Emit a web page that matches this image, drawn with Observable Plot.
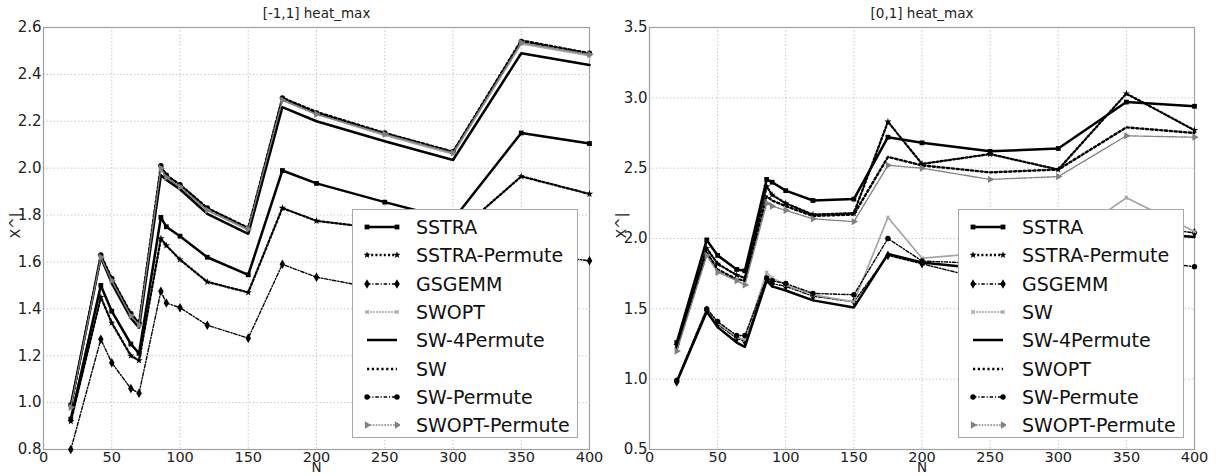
<!DOCTYPE html>
<html><head><meta charset="utf-8">
<script src="https://cdn.jsdelivr.net/npm/d3@7"></script>
<script src="https://cdn.jsdelivr.net/npm/@observablehq/plot@0.6"></script>
<style>
body{margin:0;background:#fff;font-family:"DejaVu Sans",sans-serif;}
#wrap{position:relative;width:1219px;height:476px;overflow:hidden;}
.panel{position:absolute;top:0;}
.legend{position:absolute;top:209px;width:226px;height:229px;box-sizing:border-box;background:#fff;border:1px solid #a8a8a8;padding-top:3px;}
.row{height:28.3px;display:flex;align-items:center;}
.row svg{margin-left:11px;width:36px;height:16px;flex:none;}
.row span{margin-left:16px;font-size:19px;color:#111;white-space:nowrap;}
</style></head>
<body><div id="wrap"></div>
<script>
// ---- data ----
const N = [20, 42, 50, 64, 70, 86, 90, 100, 120, 150, 175, 200, 250, 300, 350, 400];
const xTicks = [0, 50, 100, 150, 200, 250, 300, 350, 400];
const leftYTicks = [0.8, 1.0, 1.2, 1.4, 1.6, 1.8, 2.0, 2.2, 2.4, 2.6];
const rightYTicks = [0.5, 1.0, 1.5, 2.0, 2.5, 3.0, 3.5];

const leftLabels = ["SSTRA","SSTRA-Permute","GSGEMM","SWOPT","SW-4Permute","SW","SW-Permute","SWOPT-Permute"];
const rightLabels = ["SSTRA","SSTRA-Permute","GSGEMM","SW","SW-4Permute","SWOPT","SW-Permute","SWOPT-Permute"];

const leftSSTRA        = [0.93,1.50,1.39,1.25,1.21,1.79,1.75,1.71,1.62,1.545,1.99,1.935,1.855,1.78,2.15,2.105];
const leftSSTRAPermute = [0.92,1.45,1.34,1.20,1.18,1.70,1.67,1.61,1.515,1.47,1.83,1.775,1.74,1.71,1.965,1.89];
const leftGSGEMM       = [0.80,1.27,1.17,1.06,1.04,1.475,1.425,1.405,1.33,1.275,1.59,1.535,1.48,1.45,1.64,1.605];
const leftSWOPT        = [0.98,1.62,1.52,1.37,1.33,2.00,1.96,1.92,1.82,1.735,2.29,2.23,2.14,2.06,2.53,2.48];
const leftSW4Permute   = [0.99,1.62,1.51,1.36,1.32,1.97,1.95,1.91,1.805,1.72,2.26,2.20,2.115,2.035,2.49,2.44];
const leftSW           = [0.98,1.63,1.53,1.38,1.34,2.01,1.97,1.93,1.83,1.745,2.30,2.24,2.15,2.07,2.545,2.49];
const leftSWPermute    = [0.99,1.63,1.53,1.38,1.34,2.01,1.97,1.93,1.83,1.745,2.30,2.235,2.15,2.07,2.54,2.49];
const leftSWOPTPermute = [0.98,1.62,1.52,1.37,1.33,2.00,1.96,1.92,1.82,1.74,2.29,2.23,2.145,2.065,2.535,2.485];

const rightSSTRA        = [1.26,1.99,1.88,1.78,1.77,2.42,2.40,2.34,2.27,2.28,2.72,2.68,2.62,2.64,2.97,2.94];
const rightSSTRAPermute = [1.24,1.93,1.82,1.74,1.72,2.37,2.31,2.25,2.17,2.18,2.83,2.53,2.60,2.49,3.03,2.77];
const rightGSGEMM       = [0.98,1.49,1.39,1.29,1.27,1.71,1.68,1.66,1.59,1.55,1.88,1.82,1.70,1.72,2.10,2.04];
const rightSW           = [0.99,1.50,1.40,1.30,1.28,1.76,1.72,1.67,1.60,1.55,2.15,1.86,1.90,1.95,2.29,2.05];
const rightSW4Permute   = [0.98,1.48,1.37,1.26,1.23,1.70,1.66,1.63,1.56,1.51,1.89,1.83,1.78,1.76,2.05,2.01];
const rightSWOPT        = [1.22,1.90,1.78,1.71,1.70,2.30,2.27,2.23,2.16,2.17,2.58,2.52,2.47,2.49,2.79,2.75];
const rightSWPermute    = [0.99,1.50,1.41,1.31,1.31,1.72,1.70,1.68,1.61,1.60,2.00,1.84,1.82,1.80,1.85,1.80];
const rightSWOPTPermute = [1.20,1.88,1.76,1.70,1.67,2.25,2.23,2.20,2.14,2.12,2.52,2.50,2.42,2.44,2.73,2.72];

// ---- styles (by legend position) ----
const DASHDOT = "3.5,1.8,1.2,1.8";
const styles = [
  {stroke:"#000", w:2.5, dash:null,      sym:"square",   r:2.7, rot:0},
  {stroke:"#000", w:2.3, dash:"2,2.2",   sym:"star",     r:2.3, rot:0},
  {stroke:"#000", w:1.4, dash:DASHDOT,   sym:"diamond",  r:2.9, rot:0},
  {stroke:"#a4a4a4", w:1.7, dash:"2,1",  sym:"times",    r:1.7, rot:0},
  {stroke:"#000", w:2.5, dash:null,      sym:null,       r:0,   rot:0},
  {stroke:"#000", w:2.4, dash:"2.2,2.6", sym:null,       r:0,   rot:0},
  {stroke:"#000", w:1.4, dash:DASHDOT,   sym:"circle",   r:2.7, rot:0},
  {stroke:"#808080", w:1.4, dash:"1.6,1.3", sym:"triangle", r:2.7, rot:90}
];

const FONT = "DejaVu Sans";

function panel(series, yDomain, yTicks, title, opts) {
  const marks = [
    Plot.gridX(xTicks, {stroke:"#c8c8c8", strokeDasharray:"1.5,2", strokeOpacity:1}),
    Plot.gridY(yTicks, {stroke:"#c8c8c8", strokeDasharray:"1.5,2", strokeOpacity:1}),
    Plot.frame({stroke:"#a0a0a0", strokeWidth:1.2}),
    Plot.axisX(xTicks, {tickSize:0, tickPadding:2, fontSize:14.5, fill:"#222", label:null}),
    Plot.axisY(yTicks, {tickSize:0, tickPadding:2, fontSize:15, fill:"#222", tickFormat:d3.format(".1f"), label:null}),
    Plot.text([title], {text:d=>d, frameAnchor:"top", dy:-10, lineAnchor:"bottom", fontSize:13.5, fill:"#222"}),
    Plot.text(["N"], {text:d=>d, frameAnchor:"bottom", dy:22, fontSize:13.5, fill:"#222"}),
    Plot.text(["X^|"], {text:d=>d, frameAnchor:"left", dx:-28, rotate:-90, fontSize:14, fill:"#222"})
  ];
  series.forEach((vals, i) => {
    const s = styles[i];
    const rows = N.map((n, j) => ({n, v: vals[j]}));
    marks.push(Plot.line(rows, {x:"n", y:"v", stroke:s.stroke, strokeWidth:s.w,
      strokeDasharray:s.dash || undefined, strokeLinejoin:"round"}));
    if (s.sym) {
      if (s.sym === "times") {
        marks.push(Plot.dot(rows, {x:"n", y:"v", symbol:"times", r:s.r, stroke:s.stroke, strokeWidth:1.2}));
      } else {
        marks.push(Plot.dot(rows, {x:"n", y:"v", symbol:s.sym, r:s.r, fill:s.stroke, stroke:"none", rotate:s.rot}));
      }
    }
  });
  return Plot.plot({
    width: opts.width, height: 476,
    marginLeft: opts.ml, marginRight: opts.mr, marginTop: 27, marginBottom: 27,
    style: {fontFamily: FONT, background: "transparent", overflow: "visible"},
    x: {domain:[0,400]},
    y: {domain:yDomain},
    marks
  });
}

function legendBox(labels, left) {
  const div = document.createElement("div");
  div.className = "legend";
  div.style.left = left + "px";
  labels.forEach((lab, i) => {
    const s = styles[i];
    const row = document.createElement("div");
    row.className = "row";
    const svg = d3.create("svg").attr("viewBox", "0 0 36 16");
    svg.append("line").attr("x1", 3).attr("x2", 33).attr("y1", 8).attr("y2", 8)
      .attr("stroke", s.stroke).attr("stroke-width", s.w)
      .attr("stroke-dasharray", s.dash || null);
    if (s.sym) {
      const typeMap = {square:d3.symbolSquare, star:d3.symbolStar, diamond:d3.symbolDiamond,
        times:d3.symbolTimes, circle:d3.symbolCircle, triangle:d3.symbolTriangle};
      const sym = d3.symbol(typeMap[s.sym], Math.PI * s.r * s.r)();
      [3, 33].forEach(cx => {
        const p = svg.append("path").attr("d", sym)
          .attr("transform", `translate(${cx},8) rotate(${s.rot})`);
        if (s.sym === "times") p.attr("fill", "none").attr("stroke", s.stroke).attr("stroke-width", 1.2);
        else p.attr("fill", s.stroke);
      });
    }
    row.appendChild(svg.node());
    const sp = document.createElement("span");
    sp.textContent = lab;
    row.appendChild(sp);
    div.appendChild(row);
  });
  return div;
}

const wrap = document.getElementById("wrap");
const leftPlot = panel(
  [leftSSTRA, leftSSTRAPermute, leftGSGEMM, leftSWOPT, leftSW4Permute, leftSW, leftSWPermute, leftSWOPTPermute],
  [0.8, 2.6], leftYTicks, "[-1,1] heat_max", {width:609, ml:43, mr:20});
const rightPlot = panel(
  [rightSSTRA, rightSSTRAPermute, rightGSGEMM, rightSW, rightSW4Permute, rightSWOPT, rightSWPermute, rightSWOPTPermute],
  [0.5, 3.5], rightYTicks, "[0,1] heat_max", {width:610, ml:40, mr:25});
const lw = document.createElement("div"); lw.className = "panel"; lw.style.left = "0px"; lw.appendChild(leftPlot);
const rw = document.createElement("div"); rw.className = "panel"; rw.style.left = "609px"; rw.appendChild(rightPlot);
wrap.appendChild(lw); wrap.appendChild(rw);
wrap.appendChild(legendBox(leftLabels, 352));
wrap.appendChild(legendBox(rightLabels, 958));
</script></body></html>
